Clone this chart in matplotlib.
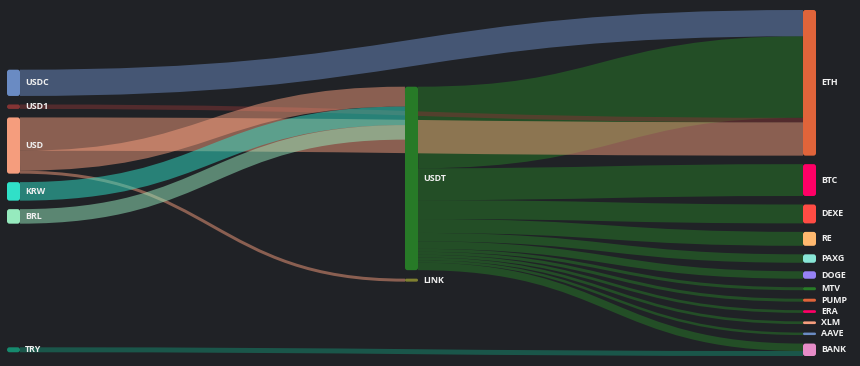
import matplotlib
matplotlib.use("Agg")
import matplotlib.pyplot as plt
from matplotlib.path import Path
from matplotlib.patches import PathPatch, FancyBboxPatch

# nodes, in the order they are fed to the layout
names = ["USDC", "USD1", "USD", "KRW", "BRL", "TRY", "USDT", "LINK",
         "ETH", "BTC", "DEXE", "RE", "PAXG", "DOGE", "MTV", "PUMP",
         "ERA", "XLM", "AAVE", "BANK"]
colors = ["#6a8bc3", "#843434", "#f59d7d", "#30e0c8", "#96eabe", "#168a6e",
          "#277a27", "#808030", "#e0643a", "#ff0066", "#ff4c44", "#ffb86e",
          "#88e6d6", "#9682f5", "#277a27", "#e0643a", "#ff0066", "#f59d7d",
          "#6a8bc3", "#e68cc8"]

# flows (drawn in this order)
link_source = ["USDT"] * 12 + ["USDC", "USD1", "USD", "USD", "USD", "KRW", "BRL", "TRY"]
link_target = ["ETH", "BTC", "DEXE", "RE", "PAXG", "DOGE", "MTV", "PUMP", "ERA",
               "XLM", "AAVE", "BANK",
               "ETH", "ETH", "ETH", "USDT", "LINK", "USDT", "USDT", "BANK"]
link_value = [82, 32, 19, 14, 8.5, 7.5, 3, 3, 2.7, 2.7, 2.5, 7.5,
              26.4, 4.5, 33.5, 20, 3, 18.6, 14.6, 5]

BG = "#202226"


def ComputeLayout(x0, x1, y0, y1, dx, py, iterations=32):
    # old style d3-sankey layout: depth columns + relaxation
    n = len(names)
    idx = {name: i for i, name in enumerate(names)}
    links = [(idx[s], idx[t], v) for s, t, v in zip(link_source, link_target, link_value)]

    inval = [0.0] * n
    outval = [0.0] * n
    for s, t, v in links:
        outval[s] += v
        inval[t] += v
    value = [max(a, b) for a, b in zip(inval, outval)]

    depth = [0] * n
    current = list(range(n))
    x = 0
    while current:
        nxt = []
        for i in current:
            depth[i] = x
            for s, t, v in links:
                if s == i and t not in nxt:
                    nxt.append(t)
        current = nxt
        x += 1
    ncol = x
    kx = (x1 - x0 - dx) / (ncol - 1)
    nx0 = [x0 + d * kx for d in depth]

    columns = [[i for i in range(n) if depth[i] == c] for c in range(ncol)]
    ky = min((y1 - y0 - (len(c) - 1) * py) / sum(value[i] for i in c) for c in columns)
    ny0 = [0.0] * n
    ny1 = [0.0] * n
    for c in columns:
        for j, i in enumerate(c):
            ny0[i] = j
            ny1[i] = j + value[i] * ky
    width = [v * ky for s, t, v in links]

    def center(i):
        return (ny0[i] + ny1[i]) / 2

    def resolve():
        for c in columns:
            c.sort(key=lambda i: ny0[i])
            y = y0
            for i in c:
                d = y - ny0[i]
                if d > 0:
                    ny0[i] += d
                    ny1[i] += d
                y = ny1[i] + py
            d = y - py - y1
            if d > 0:
                last = c[-1]
                ny0[last] -= d
                ny1[last] -= d
                y = ny0[last]
                for i in reversed(c[:-1]):
                    d = ny1[i] + py - y
                    if d > 0:
                        ny0[i] -= d
                        ny1[i] -= d
                    y = ny0[i]

    resolve()
    alpha = 1.0
    for it in range(iterations):
        alpha *= 0.99
        for c in reversed(columns):
            for i in c:
                out = [(t, v) for s, t, v in links if s == i]
                if out:
                    d = (sum(center(t) * v for t, v in out) / sum(v for t, v in out) - center(i)) * alpha
                    ny0[i] += d
                    ny1[i] += d
        resolve()
        for c in columns:
            for i in c:
                inn = [(s, v) for s, t, v in links if t == i]
                if inn:
                    d = (sum(center(s) * v for s, v in inn) / sum(v for s, v in inn) - center(i)) * alpha
                    ny0[i] += d
                    ny1[i] += d
        resolve()

    # where each link leaves / enters its nodes
    ly0 = [0.0] * len(links)
    ly1 = [0.0] * len(links)
    for i in range(n):
        outs = sorted([k for k, l in enumerate(links) if l[0] == i], key=lambda k: ny0[links[k][1]])
        y = ny0[i]
        for k in outs:
            ly0[k] = y + width[k] / 2
            y += width[k]
        ins = sorted([k for k, l in enumerate(links) if l[1] == i], key=lambda k: ny0[links[k][0]])
        y = ny0[i]
        for k in ins:
            ly1[k] = y + width[k] / 2
            y += width[k]

    return links, nx0, ny0, ny1, width, ly0, ly1


def main():
    W, H = 860, 366
    dx = 13
    fig = plt.figure(figsize=(W / 100, H / 100), dpi=100)
    fig.patch.set_facecolor(BG)
    ax = fig.add_axes([0, 0, 1, 1])
    ax.set_facecolor(BG)
    ax.set_xlim(0, W)
    ax.set_ylim(H, 0)
    ax.axis("off")

    links, nx0, ny0, ny1, width, ly0, ly1 = ComputeLayout(7, 816, 10, 356, dx, 8.5)

    for k, (s, t, v) in enumerate(links):
        xs = nx0[s] + dx
        xt = nx0[t]
        xm = (xs + xt) / 2
        path = Path([(xs, ly0[k]), (xm, ly0[k]), (xm, ly1[k]), (xt, ly1[k])],
                    [Path.MOVETO, Path.CURVE4, Path.CURVE4, Path.CURVE4])
        ax.add_patch(PathPatch(path, fill=False, edgecolor=colors[s], alpha=0.5,
                               lw=width[k] * 72 / 100, capstyle="butt"))

    for i, name in enumerate(names):
        h = ny1[i] - ny0[i]
        r = min(2.5, h / 2)
        ax.add_patch(FancyBboxPatch((nx0[i], ny0[i]), dx, h,
                                    boxstyle="round,pad=0,rounding_size=%f" % r,
                                    facecolor=colors[i], edgecolor="none"))
        ax.text(nx0[i] + dx + 5, (ny0[i] + ny1[i]) / 2, name, color="#f0f0f0",
                fontsize=6.4, fontweight="bold", va="center", ha="left",
                family=["Open Sans", "DejaVu Sans"])

    fig.savefig("out.png", dpi=100, facecolor=BG)
    plt.close()
    return 0


if __name__ == "__main__":
    main()
